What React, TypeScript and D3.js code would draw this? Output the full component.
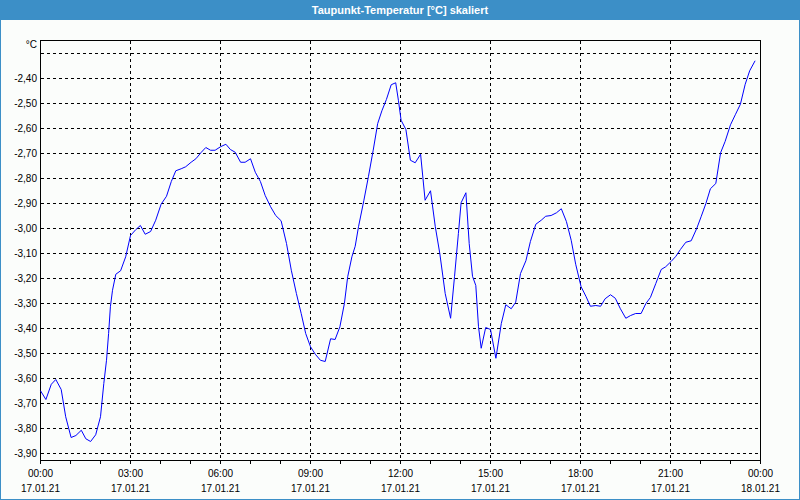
import React from 'react';
import * as d3 from 'd3';

// dew point readings, 17.01.21 00:00 -> 18.01.21 00:00 (hours since midnight)
const hours = [
  0.0, 0.18, 0.36, 0.51, 0.69, 0.84, 1.02, 1.18, 1.36, 1.51, 1.67, 1.84, 2.0, 2.11, 2.2, 2.27, 2.33, 2.4, 2.51, 2.67,
  2.84, 3.0, 3.18, 3.33, 3.49, 3.67, 3.84, 4.02, 4.2, 4.36, 4.51, 4.69, 4.84, 5.02, 5.18, 5.36, 5.51, 5.67, 5.82, 6.0,
  6.18, 6.33, 6.49, 6.67, 6.82, 7.0, 7.16, 7.33, 7.49, 7.67, 7.84, 8.02, 8.2, 8.36, 8.53, 8.69, 8.84, 9.0, 9.16, 9.33,
  9.49, 9.67, 9.82, 9.98, 10.13, 10.24, 10.38, 10.49, 10.6, 10.78, 10.93, 11.09, 11.24, 11.38, 11.53, 11.69, 11.84, 11.93, 12.02, 12.18,
  12.33, 12.49, 12.67, 12.82, 13.0, 13.16, 13.31, 13.49, 13.67, 13.8, 13.93, 14.02, 14.18, 14.29, 14.4, 14.51, 14.6, 14.69, 14.84, 15.0,
  15.18, 15.36, 15.51, 15.69, 15.84, 16.0, 16.18, 16.33, 16.51, 16.69, 16.84, 17.02, 17.2, 17.36, 17.53, 17.69, 17.84, 18.02, 18.18, 18.33,
  18.51, 18.67, 18.82, 19.0, 19.16, 19.33, 19.51, 19.67, 19.84, 20.02, 20.18, 20.33, 20.51, 20.69, 20.84, 21.02, 21.18, 21.33, 21.51, 21.69,
  21.87, 22.02, 22.18, 22.33, 22.51, 22.67, 22.82, 23.0, 23.16, 23.33, 23.49, 23.64, 23.82,
];
const dewPoint = [
  -3.649, -3.684, -3.623, -3.604, -3.644, -3.753, -3.836, -3.828, -3.807, -3.841, -3.852, -3.825, -3.753, -3.62, -3.527, -3.42, -3.313, -3.247, -3.183, -3.169,
  -3.113, -3.028, -3.004, -2.988, -3.023, -3.012, -2.967, -2.903, -2.871, -2.812, -2.769, -2.761, -2.753, -2.735, -2.721, -2.695, -2.676, -2.687, -2.687, -2.673,
  -2.663, -2.684, -2.695, -2.735, -2.735, -2.721, -2.775, -2.812, -2.868, -2.913, -2.948, -2.969, -3.06, -3.167, -3.26, -3.34, -3.42, -3.473, -3.503, -3.527,
  -3.532, -3.441, -3.444, -3.393, -3.3, -3.193, -3.113, -3.071, -2.993, -2.887, -2.793, -2.687, -2.58, -2.529, -2.484, -2.425, -2.417, -2.487, -2.567, -2.604,
  -2.727, -2.737, -2.703, -2.887, -2.849, -2.993, -3.1, -3.26, -3.359, -3.193, -3.02, -2.897, -2.857, -3.06, -3.191, -3.228, -3.393, -3.479, -3.396, -3.404,
  -3.519, -3.38, -3.305, -3.321, -3.295, -3.18, -3.129, -3.052, -2.983, -2.967, -2.951, -2.948, -2.937, -2.921, -2.972, -3.047, -3.143, -3.233, -3.271, -3.311,
  -3.308, -3.311, -3.281, -3.265, -3.279, -3.321, -3.359, -3.348, -3.34, -3.34, -3.3, -3.276, -3.22, -3.164, -3.153, -3.132, -3.111, -3.084, -3.055, -3.049,
  -3.001, -2.953, -2.9, -2.841, -2.82, -2.697, -2.652, -2.585, -2.545, -2.503, -2.423, -2.369, -2.329,
];

const gridValues = [-2.3, -2.4, -2.5, -2.6, -2.7, -2.8, -2.9, -3.0, -3.1, -3.2, -3.3, -3.4, -3.5, -3.6, -3.7, -3.8, -3.9];
const labelValues = [-2.4, -2.5, -2.6, -2.7, -2.8, -2.9, -3.0, -3.1, -3.2, -3.3, -3.4, -3.5, -3.6, -3.7, -3.8, -3.9];
const xTickHours = [0, 3, 6, 9, 12, 15, 18, 21, 24];
const xTickTimes = ['00:00', '03:00', '06:00', '09:00', '12:00', '15:00', '18:00', '21:00', '00:00'];
const xTickDates = ['17.01.21', '17.01.21', '17.01.21', '17.01.21', '17.01.21', '17.01.21', '17.01.21', '17.01.21', '18.01.21'];
const title = 'Taupunkt-Temperatur [°C] skaliert';
const unit = '°C';

const W = 800;
const H = 500;
const left = 40.5, right = 760.5, top = 40.5, bottom = 460.5;
const font = '"Liberation Sans", Arial, sans-serif';

export default function App() {
  const x = d3.scaleLinear().domain([0, 24]).range([left, right]);
  const y = d3.scaleLinear().domain([-3.928, -2.248]).range([bottom, top]);
  const snap = (v: number) => Math.round(v - 0.5) + 0.5;

  const pts = hours.map((h, i) => [h, dewPoint[i]] as [number, number]);
  const line = d3.line<[number, number]>().x(d => x(d[0])).y(d => y(d[1]));

  const hourTicks = d3.range(0, 25);

  return (
    <div>
      <style>{`body{margin:0}`}</style>
      <svg width={W} height={H} style={{ display: 'block', fontFamily: font }}>
        <rect x={0} y={0} width={W} height={H} fill="#fbfdfb" />
        <rect x={0} y={0} width={W} height={20} fill="#3c8fc7" />
        <rect x={0.5} y={0.5} width={W - 1} height={H - 1} fill="none" stroke="#3c8fc7" />
        <text x={W / 2} y={14} textAnchor="middle" fill="#fff" fontSize={11} fontWeight="bold">{title}</text>

        {/* horizontal grid */}
        {gridValues.map(v => (
          <line key={'h' + v} x1={left} x2={right} y1={snap(y(v))} y2={snap(y(v))}
            stroke="#000" strokeDasharray="3,3" shapeRendering="crispEdges" />
        ))}
        {/* vertical grid */}
        {xTickHours.slice(1, -1).map(h => (
          <line key={'v' + h} x1={snap(x(h))} x2={snap(x(h))} y1={top} y2={bottom + 2}
            stroke="#000" strokeDasharray="3,3" shapeRendering="crispEdges" />
        ))}
        {/* hour ticks */}
        {hourTicks.map(h => (
          <line key={'t' + h} x1={snap(x(h))} x2={snap(x(h))} y1={bottom} y2={bottom + 3}
            stroke="#000" shapeRendering="crispEdges" />
        ))}

        <rect x={left} y={top} width={right - left} height={bottom - top} fill="none" stroke="#000" shapeRendering="crispEdges" />

        <path d={line(pts) || ''} fill="none" stroke="#0000ff" strokeWidth={1} />

        {labelValues.map(v => (
          <text key={'l' + v} x={37} y={snap(y(v)) + 3.5} textAnchor="end" fontSize={10} fill="#000">
            {v.toFixed(2).replace('.', ',')}
          </text>
        ))}
        <text x={37} y={48} textAnchor="end" fontSize={10} fill="#000">{unit}</text>

        {xTickHours.map((h, i) => (
          <g key={'x' + i}>
            <text x={x(h)} y={477} textAnchor="middle" fontSize={10} fill="#000">{xTickTimes[i]}</text>
            <text x={x(h)} y={492} textAnchor="middle" fontSize={10} fill="#000">{xTickDates[i]}</text>
          </g>
        ))}
      </svg>
    </div>
  );
}
